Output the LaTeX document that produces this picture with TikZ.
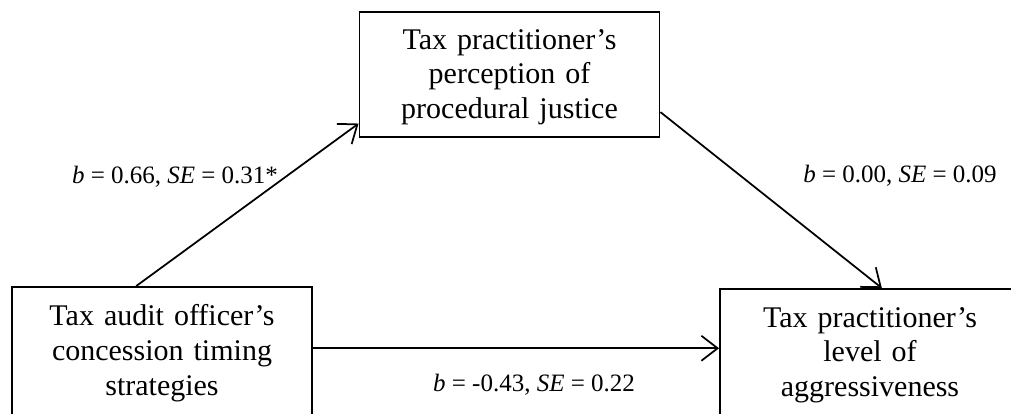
\documentclass[tikz,border=0pt]{standalone}
\usepackage{fontspec}
\setmainfont{Liberation Serif}
\usetikzlibrary{arrows.meta}

\begin{document}
\begin{tikzpicture}[x=0.4pt,y=-0.4pt,
		varbox/.style={draw, line width=0.75pt, rectangle, inner sep=0pt,
			minimum width=120pt, minimum height=50pt, text width=118pt, align=center,
			font=\fontsize{12}{13.9}\selectfont},
		lowbox/.style={varbox, minimum height=53pt},
		coef/.style={font=\fontsize{10}{12}\selectfont, inner sep=0pt},
		effect/.style={line width=0.7pt, -{Straight Barb[length=6.5pt,width=10pt]}}]
		\useasboundingbox (0,0) rectangle (1011,413);
		\clip (0,0) rectangle (1011,413);
		%% The three variables
		\node[varbox, text height=10pt] (med) at (509.5,74.5)  {Tax practitioner's\\perception of\\procedural justice};
		\node[lowbox] (iv)  at (162,353.25)   {Tax audit officer's\\concession timing\\strategies};
		\node[lowbox] (dv)  at (870,355.25)   {Tax practitioner's\\level of\\aggressiveness};
		%% The paths
		\draw[effect] (iv.111.8) -- (med.198.7);
		\draw[effect] (med.346.6) -- (dv.80.3);
		\draw[effect] (iv.east) ++(0,-5) coordinate (iv_out) -- (iv_out -| dv.west);
		%% Coefficients
		\node[coef] (a_lab) at (175,177) {\textit{b} = 0.66, \textit{SE} = 0.31*};
		\node[coef] (b_lab) at (900,176) {\textit{b} = 0.00, \textit{SE} = 0.09};
		\node[coef] (c_lab) at (534,385) {\textit{b} = -0.43, \textit{SE} = 0.22};
\end{tikzpicture}
\end{document}
